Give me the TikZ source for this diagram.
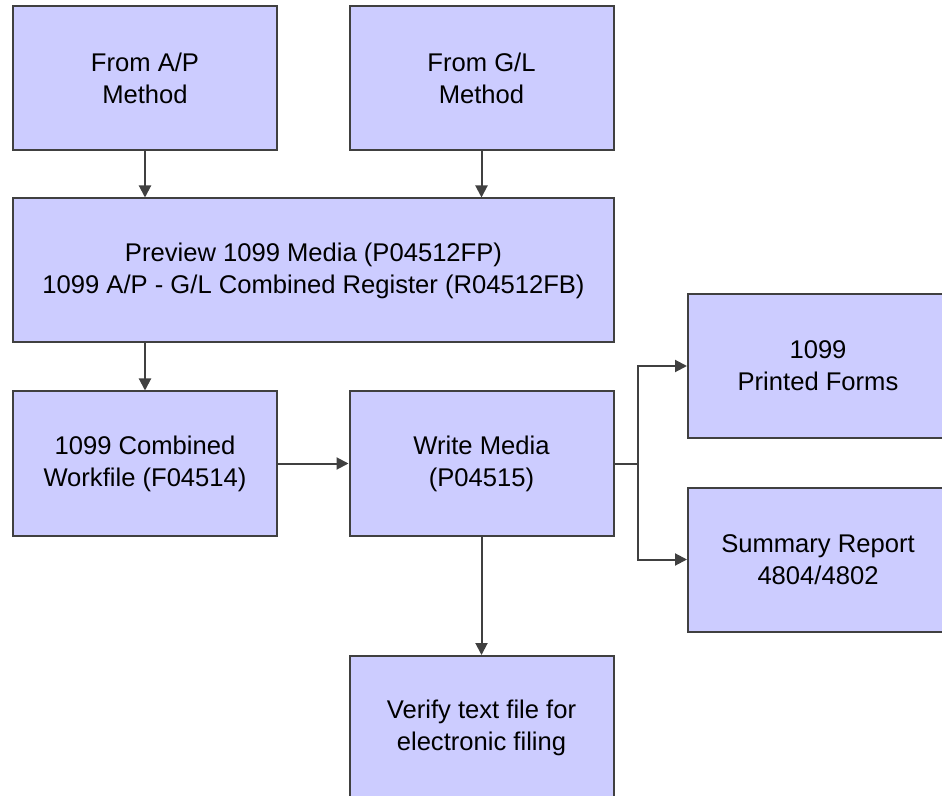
\documentclass[tikz,border=0pt]{standalone}
\usepackage{fontspec}
\setmainfont{Liberation Sans}
\usepackage{tikz}
\usetikzlibrary{arrows.meta}
\definecolor{lila}{HTML}{CCCCFF}
\definecolor{borde}{HTML}{404040}
\tikzstyle{caja} = [draw=borde, fill=lila, line width=1pt, rectangle, align=center, minimum width=132pt, minimum height=72pt, font=\fontsize{12.8}{16}\selectfont]
\tikzstyle{flecha} = [draw=borde, line width=1pt, -{Triangle[length=6pt,width=6pt]}]
\tikzstyle{linea} = [draw=borde, line width=1pt]

\begin{document}
\begin{tikzpicture}[x=0.5pt,y=-0.5pt]
	\clip (0,0) rectangle (942,796);
	\node[caja](ap) at (145,78) {From A/P\\Method};
	\node[caja](gl) at (481.5,78) {From G/L\\Method};
	\node[caja, minimum width=300.5pt](preview) at (313.5,270.5) {Preview 1099 Media (P04512FP)\\1099 A/P - G/L Combined Register (R04512FB)};
	\node[caja](work) at (145,463.5) {1099 Combined\\Workfile (F04514)};
	\node[caja](write) at (481.5,463.5) {Write Media\\(P04515)};
	\node[caja, minimum width=130pt](forms) at (818,366) {1099\\Printed Forms};
	\node[caja, minimum width=130pt](summary) at (818,559.5) {Summary Report\\4804/4802};
	\node[caja](verify) at (481.5,728) {Verify text file for\\electronic filing};
	\draw[flecha] (ap) -- (ap |- preview.north);
	\draw[flecha] (gl) -- (gl |- preview.north);
	\draw[flecha] (preview.south -| work) -- (work);
	\draw[flecha] (work) -- (write);
	\draw[linea] (write.east) -- ++(23,0) coordinate(split);
	\draw[flecha] (split) |- (forms.west);
	\draw[flecha] (split) |- (summary.west);
	\draw[flecha] (write) -- (verify);
\end{tikzpicture}
\end{document}
